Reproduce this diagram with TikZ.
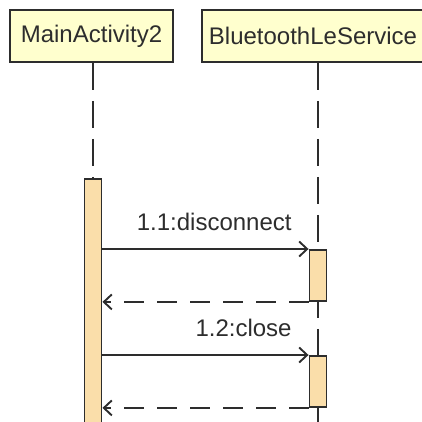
\documentclass[tikz,border=0pt]{standalone}
\usepackage{fontspec}
\setmainfont{Liberation Sans}
\usetikzlibrary{arrows.meta}
\definecolor{classfill}{RGB}{255,255,206}
\definecolor{actfill}{RGB}{250,222,170}
\definecolor{umlline}{RGB}{45,45,45}

\begin{document}
\begin{tikzpicture}[x=1pt,y=-1pt,line width=1.9pt,
    classbox/.style={draw=umlline,fill=classfill,minimum height=52pt,inner sep=0pt,
        font=\fontsize{24}{28}\selectfont,text=umlline},
    actbox/.style={draw=umlline,fill=actfill,minimum width=17pt,inner sep=0pt,anchor=north},
    lifeline/.style={draw=umlline,dash pattern=on 27pt off 11pt},
    call/.style={draw=umlline,-{Straight Barb[length=8pt,width=15pt,line width=1.9pt]}},
    reply/.style={call,dash pattern=on 20pt off 13pt},
    msg/.style={font=\fontsize{24}{28}\selectfont,text=umlline,inner sep=0pt,anchor=south east}]
    \useasboundingbox (0,0) rectangle (422,421);

    \node[classbox,minimum width=163pt] (main) at (91.5,36) {MainActivity2};
    \node[classbox,minimum width=222pt] (ble) at (313,36) {BluetoothLeService};
    \coordinate (bleend) at (318,425);

    \node[actbox,minimum height=255pt] (act1) at (93,178) {};

    % lifelines
    \path[lifeline] (main.south -| act1.north) -- (act1.north);
    \path[lifeline] (ble.south -| bleend) -- (bleend);

    \node[actbox,minimum height=51pt] (act2) at (318,249) {};
    \node[actbox,minimum height=51pt] (act3) at (318,355) {};

    \path[call] (act1.east |- act2.north west) -- (act2.north west)
        node[msg,pos=1,xshift=-16pt,yshift=17pt] (m1) {1.1:disconnect};
    \path[reply] (act2.south west) -- (act1.east |- act2.south west);
    \path[call] (act1.east |- act3.north west) -- (act3.north west)
        node[msg,pos=1,xshift=-16pt,yshift=17pt] (m2) {1.2:close};
    \path[reply] (act3.south west) -- (act1.east |- act3.south west);
\end{tikzpicture}
\end{document}
